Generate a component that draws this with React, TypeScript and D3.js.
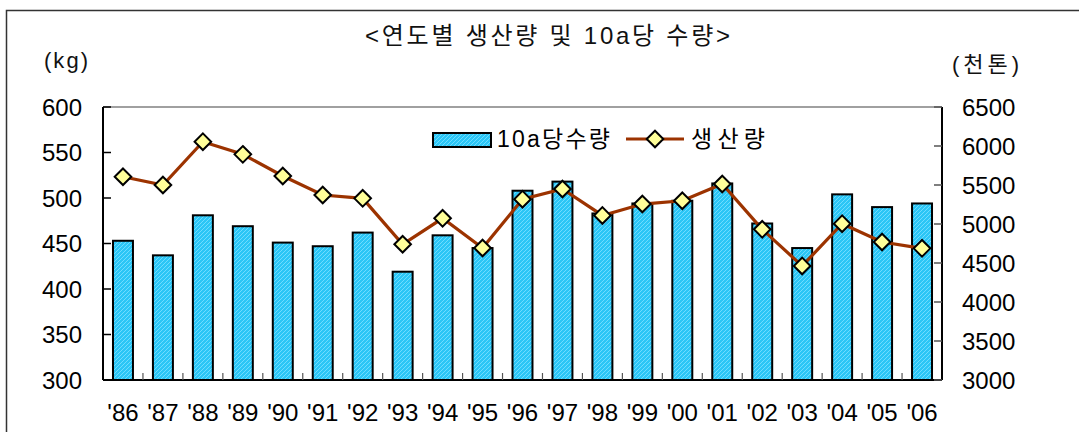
import React from 'react';
import * as d3 from 'd3';

// data
const years = ["'86", "'87", "'88", "'89", "'90", "'91", "'92", "'93", "'94", "'95", "'96",
  "'97", "'98", "'99", "'00", "'01", "'02", "'03", "'04", "'05", "'06"];
const yieldPer10a = [453, 437, 481, 469, 451, 447, 462, 419, 459, 445, 508,
  518, 483, 494, 497, 516, 472, 445, 504, 490, 494];
const production = [5606, 5500, 6055, 5893, 5615, 5372, 5329, 4740, 5073, 4692, 5318,
  5449, 5110, 5256, 5298, 5513, 4932, 4462, 5004, 4769, 4688];
const leftTicks = [300, 350, 400, 450, 500, 550, 600];
const rightTicks = [3000, 3500, 4000, 4500, 5000, 5500, 6000, 6500];

const W = 1079, H = 432;
const left = 103, right = 942, top = 107, bottom = 380;
const font = '"Liberation Sans", Arial, "Noto Sans CJK KR", sans-serif';
const lineColor = '#9c3300';

export default function App() {
  const x = d3.scaleBand<string>().domain(years).range([left, right]).padding(0);
  const yL = d3.scaleLinear().domain([300, 600]).range([bottom, top]);
  const yR = d3.scaleLinear().domain([3000, 6500]).range([bottom, top]);
  const barW = x.bandwidth() * 0.5;
  const cx = (d: string) => (x(d) as number) + x.bandwidth() / 2;

  const line = d3.line<number>()
    .x((d, i) => cx(years[i]))
    .y(d => yR(d));

  const diamond = (px: number, py: number, r = 8.3) =>
    `M${px},${py - r}L${px + r},${py}L${px},${py + r}L${px - r},${py}Z`;

  return (
    <svg width={W} height={H} style={{ position: 'absolute', left: 0, top: 0 }} fontFamily={font}>
      <defs>
        <pattern id="hatch" width="4" height="4" patternUnits="userSpaceOnUse">
          <rect width="4" height="4" fill="#2bc6f6" />
          <path d="M-1,1L1,-1M0,4L4,0M3,5L5,3" stroke="#6fdcff" strokeWidth="1" />
        </pattern>
      </defs>
      <rect x={0} y={0} width={W} height={H} fill="#fff" />
      <rect x={6.5} y={10.5} width={1100} height={500} fill="none" stroke="#333" strokeWidth={1.5} />

      <text x={365} y={44} fontSize={24} textLength={365} lengthAdjust="spacing" fill="#111">
        {'<연도별 생산량 및 10a당 수량>'}
      </text>
      <text x={44} y={68} fontSize={22} textLength={44} lengthAdjust="spacing" fill="#111">(kg)</text>
      <text x={952} y={72} fontSize={22} textLength={67} lengthAdjust="spacing" fill="#111">(천톤)</text>

      {/* bars */}
      {years.map((d, i) => (
        <rect key={d} x={cx(d) - barW / 2} y={yL(yieldPer10a[i])} width={barW}
          height={bottom - yL(yieldPer10a[i])} fill="url(#hatch)" stroke="#000" strokeWidth={2} />
      ))}

      {/* frame */}
      <line x1={left} x2={right} y1={top} y2={top} stroke="#808080" strokeWidth={1.5} />
      <line x1={left} x2={left} y1={top} y2={bottom} stroke="#000" strokeWidth={2} />
      <line x1={right} x2={right} y1={top} y2={bottom} stroke="#000" strokeWidth={2} />
      <line x1={left} x2={right} y1={bottom} y2={bottom} stroke="#000" strokeWidth={2} />

      {leftTicks.map(t => (
        <g key={t}>
          <line x1={left} x2={left + 8} y1={yL(t)} y2={yL(t)} stroke="#000" strokeWidth={1.5} />
          <text x={82} y={yL(t)} dy="0.36em" textAnchor="end" fontSize={24} fill="#000">{t}</text>
        </g>
      ))}
      {rightTicks.map(t => (
        <g key={t}>
          <line x1={right - 8} x2={right} y1={yR(t)} y2={yR(t)} stroke="#555" strokeWidth={1.5} />
          <text x={962} y={yR(t)} dy="0.36em" textAnchor="start" fontSize={24} fill="#000">{t}</text>
        </g>
      ))}
      {years.slice(1).map(d => (
        <line key={d} x1={x(d)} x2={x(d)} y1={bottom} y2={bottom - 7} stroke="#555" strokeWidth={1.2} />
      ))}
      {years.map(d => (
        <text key={d} x={cx(d)} y={421} textAnchor="middle" fontSize={24} fill="#000">{d}</text>
      ))}

      {/* production line */}
      <path d={line(production) || ''} fill="none" stroke={lineColor} strokeWidth={3.2} />
      {production.map((v, i) => (
        <path key={i} d={diamond(cx(years[i]), yR(v))} fill="#ffff99" stroke="#000" strokeWidth={2} />
      ))}

      {/* legend */}
      <rect x={433} y={133} width={58} height={14} fill="url(#hatch)" stroke="#000" strokeWidth={2} />
      <text x={497} y={147} fontSize={23} textLength={113} lengthAdjust="spacing" fill="#000">10a당수량</text>
      <line x1={626} x2={684} y1={139} y2={139} stroke={lineColor} strokeWidth={3.2} />
      <path d={diamond(655, 139)} fill="#ffff99" stroke="#000" strokeWidth={2} />
      <text x={691} y={147} fontSize={23} textLength={74} lengthAdjust="spacing" fill="#000">생산량</text>
    </svg>
  );
}
